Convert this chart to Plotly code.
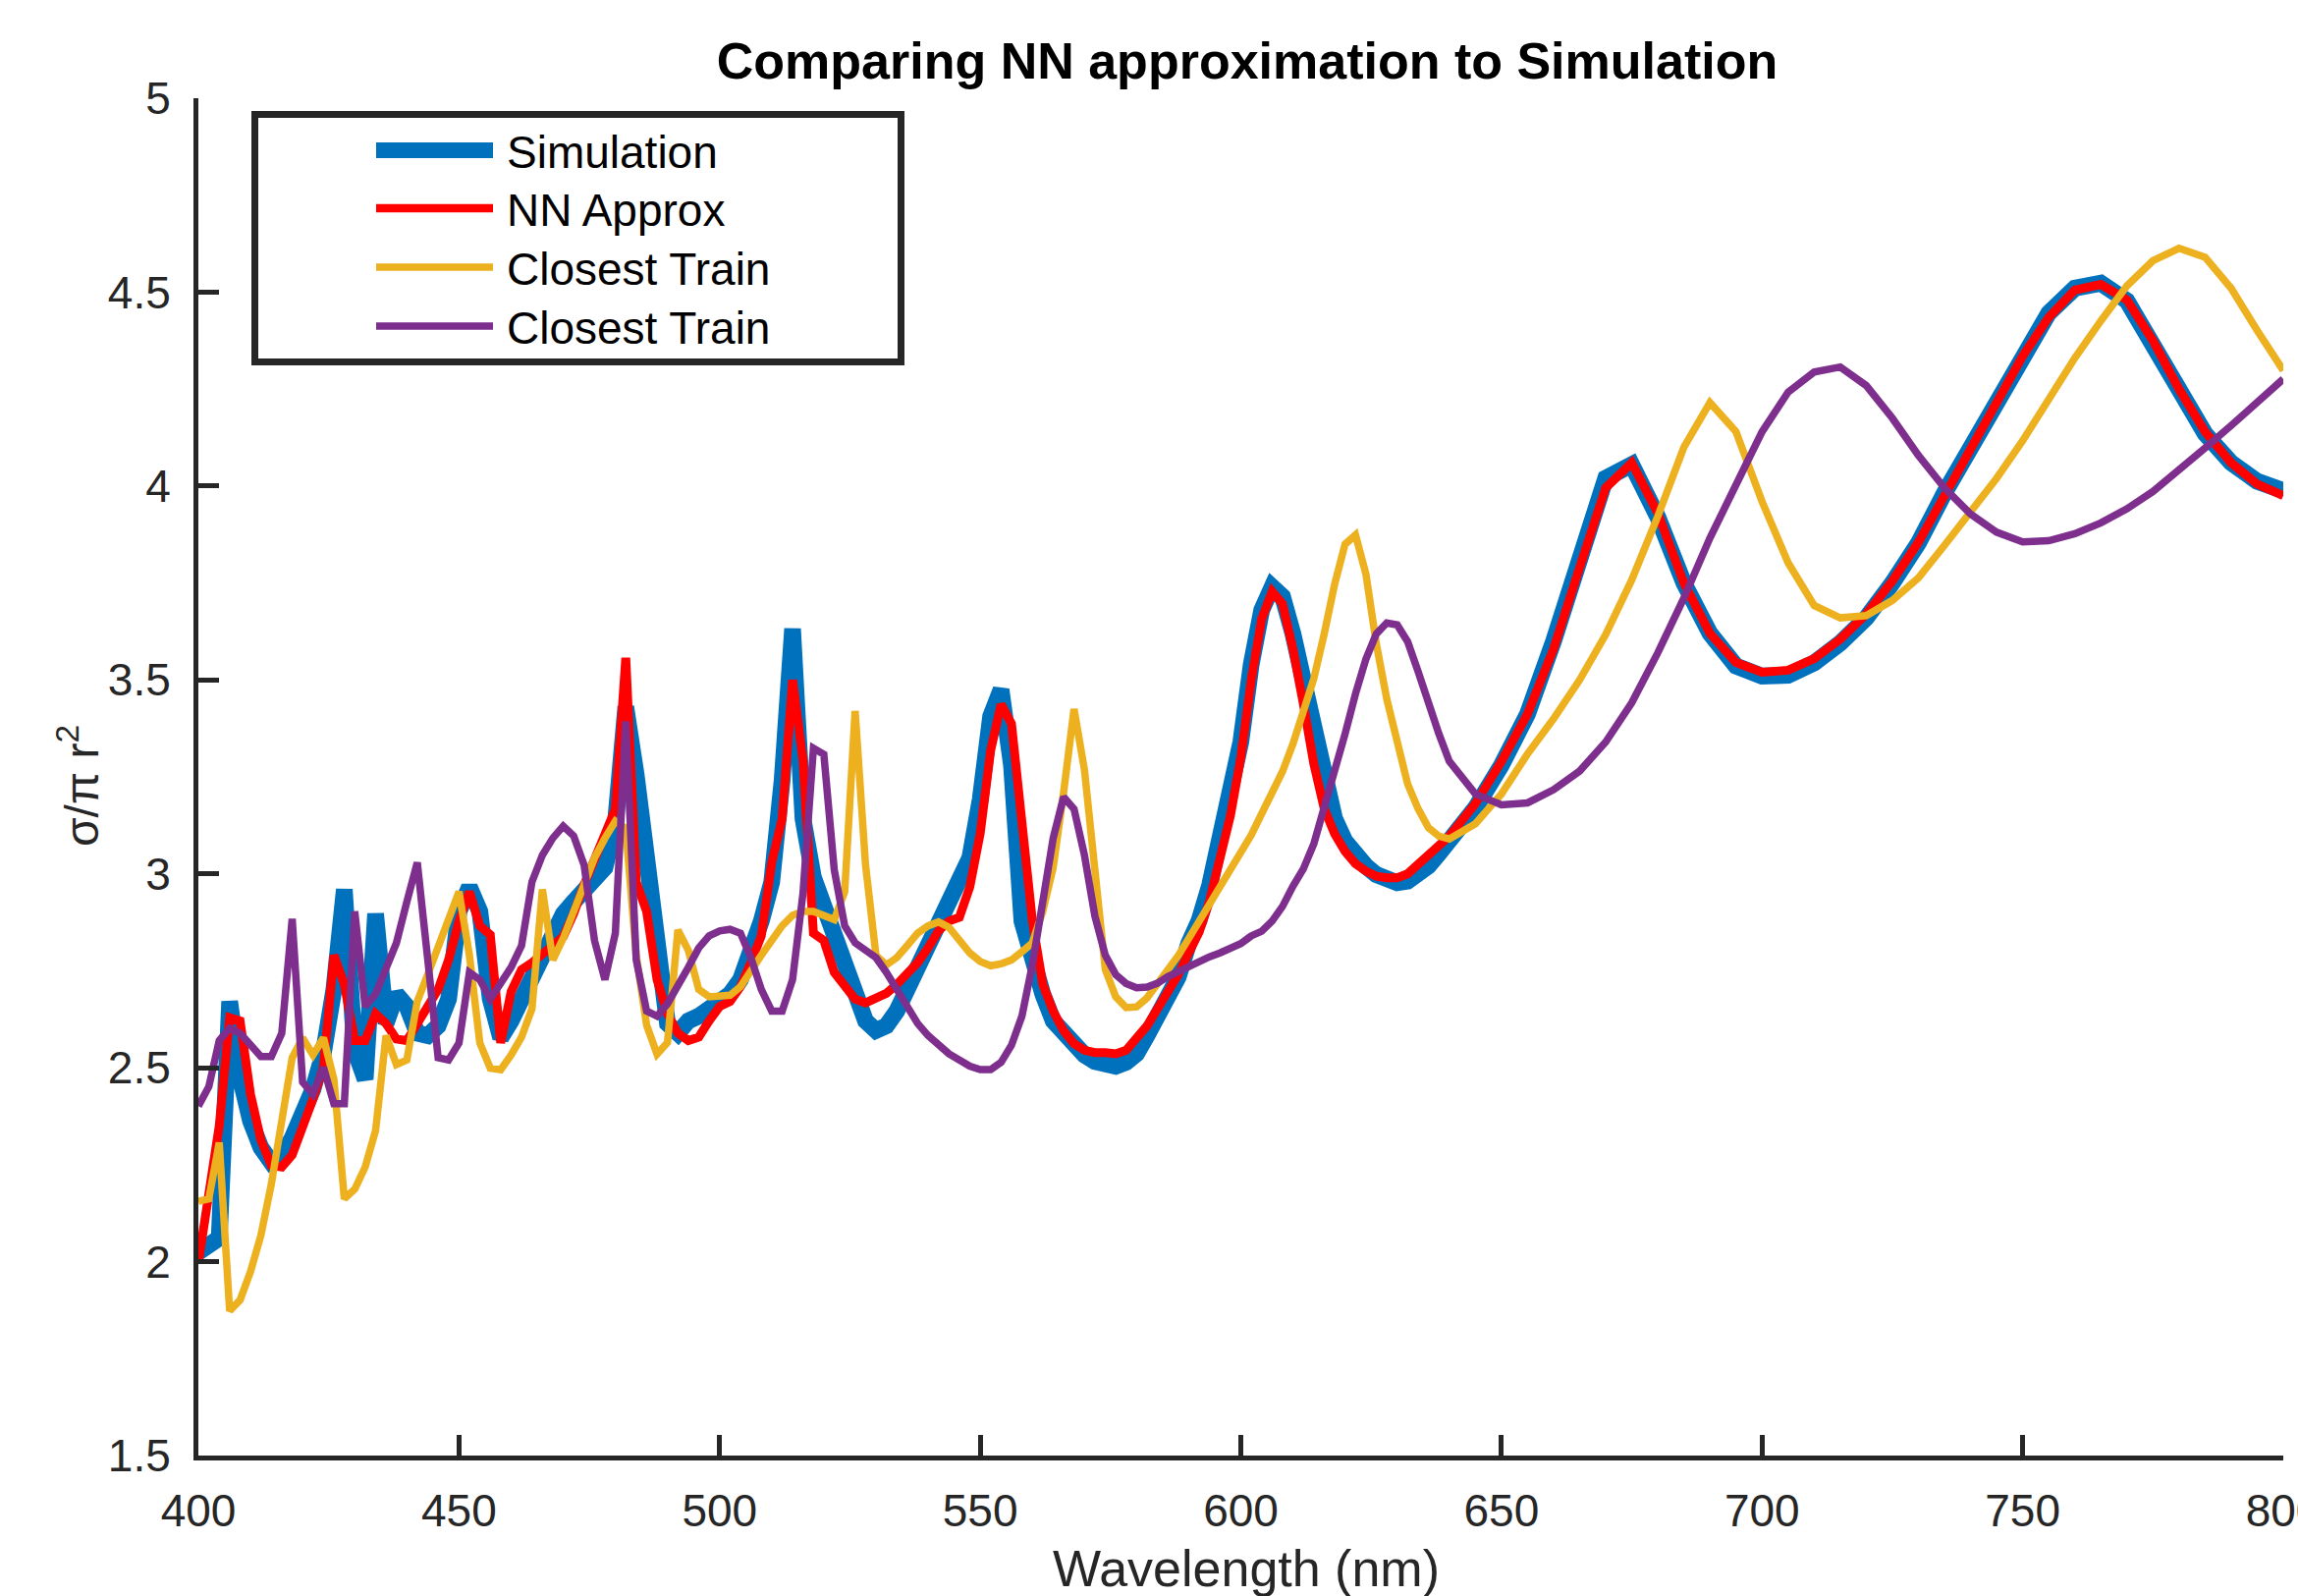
import plotly.graph_objects as go

# ---------------- data ----------------
wavelength = list(range(400, 641, 2)) + list(range(645, 801, 5))

simulation = [
    2.024, 2.043, 2.061, 2.671, 2.476, 2.363, 2.294, 2.256, 2.269, 2.319,
    2.376, 2.445, 2.539, 2.702, 2.960, 2.545, 2.470, 2.897, 2.614, 2.690,
    2.658, 2.589, 2.583, 2.608, 2.677, 2.903, 2.966, 2.903, 2.677, 2.577,
    2.621, 2.677, 2.740, 2.796, 2.853, 2.897, 2.928, 2.954, 2.979, 3.016,
    3.129, 3.431, 3.255, 3.041, 2.878, 2.614, 2.589, 2.621, 2.633, 2.652,
    2.677, 2.690, 2.727, 2.790, 2.878, 2.979, 3.242, 3.632, 3.142, 2.991,
    2.916, 2.853, 2.778, 2.690, 2.621, 2.596, 2.608, 2.646, 2.702, 2.759,
    2.815, 2.872, 2.916, 2.979, 3.041, 3.192, 3.406, 3.475, 3.280, 2.878,
    2.771, 2.690, 2.621, 2.589, 2.558, 2.533, 2.516, 2.505, 2.504, 2.514,
    2.536, 2.583, 2.633, 2.683, 2.734, 2.820, 2.880, 2.970, 3.080, 3.200,
    3.340, 3.540, 3.680, 3.740, 3.715, 3.619, 3.490, 3.361, 3.232, 3.142,
    3.084, 3.045, 3.020, 2.998, 2.985, 2.977, 2.981, 2.998, 3.020, 3.052,
    3.084,
    3.170, 3.280, 3.412, 3.600, 3.810, 4.020, 4.055, 3.920, 3.750, 3.620,
    3.536, 3.510, 3.512, 3.544, 3.595, 3.660, 3.750, 3.853, 3.982, 4.098,
    4.227, 4.349, 4.446, 4.510, 4.523, 4.478, 4.368, 4.240, 4.135, 4.060,
    4.012, 3.988,
]

nn_approx = [
    1.998, 2.175, 2.350, 2.629, 2.621, 2.432, 2.313, 2.248, 2.244, 2.275,
    2.344, 2.420, 2.501, 2.790, 2.715, 2.570, 2.570, 2.639, 2.614, 2.574,
    2.570, 2.614, 2.658, 2.702, 2.778, 2.878, 2.954, 2.866, 2.843, 2.564,
    2.696, 2.753, 2.771, 2.796, 2.815, 2.838, 2.897, 2.972, 3.041, 3.098,
    3.167, 3.557, 2.979, 2.903, 2.727, 2.639, 2.589, 2.570, 2.579, 2.621,
    2.658, 2.671, 2.709, 2.771, 2.840, 3.029, 3.142, 3.500, 3.293, 2.847,
    2.828, 2.746, 2.715, 2.677, 2.667, 2.677, 2.692, 2.715, 2.740, 2.771,
    2.809, 2.853, 2.878, 2.888, 2.966, 3.104, 3.318, 3.437, 3.387, 3.120,
    2.880, 2.715, 2.646, 2.595, 2.562, 2.545, 2.539, 2.539, 2.536, 2.545,
    2.577, 2.608, 2.652, 2.696, 2.740, 2.796, 2.850, 2.930, 3.030, 3.150,
    3.300, 3.500, 3.657, 3.728, 3.696, 3.580, 3.438, 3.284, 3.168, 3.103,
    3.058, 3.026, 3.007, 2.994, 2.990, 2.990, 3.000, 3.023, 3.045, 3.071,
    3.097,
    3.181, 3.290, 3.412, 3.580, 3.790, 3.995, 4.060, 3.930, 3.750, 3.620,
    3.545, 3.520, 3.525, 3.555, 3.605, 3.670, 3.755, 3.855, 3.975, 4.090,
    4.215, 4.335, 4.435, 4.505, 4.520, 4.480, 4.375, 4.250, 4.140, 4.060,
    4.005, 3.975,
]

closest_train_a = [
    2.156, 2.162, 2.307, 1.873, 1.901, 1.974, 2.068, 2.200, 2.363, 2.526,
    2.577, 2.533, 2.577, 2.470, 2.162, 2.187, 2.244, 2.338, 2.583, 2.508,
    2.520, 2.671, 2.740, 2.809, 2.884, 2.954, 2.790, 2.564, 2.499, 2.495,
    2.533, 2.579, 2.652, 2.960, 2.778, 2.834, 2.903, 2.979, 3.041, 3.092,
    3.136, 3.117, 2.790, 2.610, 2.535, 2.565, 2.855, 2.803, 2.702, 2.683,
    2.683, 2.687, 2.709, 2.753, 2.790, 2.828, 2.866, 2.893, 2.903, 2.903,
    2.891, 2.882, 2.954, 3.420, 3.023, 2.790, 2.765, 2.784, 2.815, 2.847,
    2.866, 2.876, 2.862, 2.830, 2.796, 2.774, 2.763, 2.768, 2.778, 2.799,
    2.822, 2.903, 3.016, 3.210, 3.425, 3.268, 3.029, 2.753, 2.683, 2.655,
    2.657, 2.680, 2.716, 2.751, 2.789, 2.833, 2.878, 2.920, 2.961, 3.005,
    3.050, 3.100, 3.155, 3.206, 3.264, 3.335, 3.412, 3.503, 3.619, 3.747,
    3.850, 3.874, 3.773, 3.593, 3.451, 3.335, 3.232, 3.168, 3.119, 3.097,
    3.090,
    3.129, 3.206, 3.309, 3.400, 3.500, 3.617, 3.758, 3.922, 4.100, 4.215,
    4.140, 3.960, 3.802, 3.692, 3.660, 3.666, 3.705, 3.763, 3.847, 3.930,
    4.020, 4.117, 4.227, 4.330, 4.426, 4.516, 4.581, 4.613, 4.590, 4.510,
    4.401, 4.298,
]

closest_train_b = [
    2.401, 2.451, 2.570, 2.602, 2.589, 2.562, 2.529, 2.529, 2.589, 2.884,
    2.463, 2.432, 2.501, 2.407, 2.407, 2.903, 2.658, 2.690, 2.753, 2.822,
    2.928, 3.029, 2.780, 2.526, 2.520, 2.564, 2.746, 2.727, 2.677, 2.715,
    2.759, 2.815, 2.979, 3.048, 3.092, 3.123, 3.098, 3.023, 2.828, 2.727,
    2.847, 3.393, 2.778, 2.646, 2.633, 2.665, 2.709, 2.759, 2.809, 2.840,
    2.853, 2.857, 2.847, 2.784, 2.702, 2.646, 2.646, 2.727, 2.950, 3.324,
    3.308, 3.010, 2.866, 2.822, 2.803, 2.784, 2.746, 2.702, 2.652, 2.614,
    2.583, 2.558, 2.536, 2.520, 2.504, 2.495, 2.495, 2.514, 2.558, 2.633,
    2.765, 2.928, 3.092, 3.198, 3.167, 3.048, 2.891, 2.790, 2.740, 2.717,
    2.706, 2.708, 2.718, 2.735, 2.749, 2.762, 2.775, 2.786, 2.796, 2.808,
    2.820, 2.840, 2.852, 2.878, 2.916, 2.968, 3.013, 3.077, 3.168, 3.258,
    3.361, 3.464, 3.554, 3.619, 3.647, 3.642, 3.599, 3.522, 3.438, 3.361,
    3.290,
    3.206, 3.178, 3.183, 3.217, 3.265, 3.340, 3.441, 3.570, 3.711, 3.866,
    4.008, 4.140, 4.242, 4.294, 4.307, 4.259, 4.175, 4.079, 3.995, 3.928,
    3.881, 3.856, 3.859, 3.877, 3.905, 3.941, 3.986, 4.040, 4.098, 4.156,
    4.214, 4.276,
]

series_names = ["Simulation", "NN Approx", "Closest Train", "Closest Train"]
x_ticks = [400, 450, 500, 550, 600, 650, 700, 750, 800]
y_ticks = [1.5, 2, 2.5, 3, 3.5, 4, 4.5, 5]

# ---------------- styling ----------------
W, H = 2340, 1625
L, R, T, B = 202, 15, 100, 143
PW, PH = W - L - R, H - T - B
AX = "#262626"
FONT = "Liberation Sans, Arial, Helvetica, sans-serif"
colors = ["#0072BD", "#FF0000", "#EDB120", "#7E2F8E"]
widths = [17, 9, 7.5, 7.5]


def px_x(p):
    return (p - L) / PW


def px_y(p):
    return 1 - (p - T) / PH


fig = go.Figure()
for ys, name, c, w in zip([simulation, nn_approx, closest_train_a, closest_train_b],
                          series_names, colors, widths):
    fig.add_trace(go.Scatter(x=wavelength, y=ys, mode="lines", name=name,
                             line=dict(color=c, width=w), showlegend=False))

# legend (drawn to match MATLAB's long sample lines)
shapes = [dict(type="rect", xref="paper", yref="paper",
               x0=px_x(259.5), x1=px_x(917.5), y0=px_y(116.5), y1=px_y(368.5),
               line=dict(color=AX, width=7), fillcolor="white", layer="above")]
annotations = []
row_y = [153, 212, 272, 332]
legend_w = [16, 8.5, 7.5, 7.5]
for name, c, w, ry in zip(series_names, colors, legend_w, row_y):
    shapes.append(dict(type="line", xref="paper", yref="paper",
                       x0=px_x(383), x1=px_x(502), y0=px_y(ry), y1=px_y(ry),
                       line=dict(color=c, width=w), layer="above"))
    annotations.append(dict(xref="paper", yref="paper", x=px_x(514), y=px_y(ry + 2),
                            xanchor="left", yanchor="middle", showarrow=False,
                            text=name, font=dict(family=FONT, size=46, color="black")))

# axis labels
annotations.append(dict(xref="paper", yref="paper", x=px_x(1269), y=px_y(1597),
                        xanchor="center", yanchor="middle", showarrow=False,
                        text="Wavelength (nm)", font=dict(family=FONT, size=52, color=AX)))
annotations.append(dict(xref="paper", yref="paper", x=px_x(80), y=px_y(800),
                        xanchor="center", yanchor="middle", showarrow=False, textangle=-90,
                        text="σ/π r<sup>2</sup>", font=dict(family=FONT, size=48, color=AX)))

fig.update_layout(
    width=W, height=H, autosize=False,
    margin=dict(l=L, r=R, t=T, b=B, pad=0, autoexpand=False),
    paper_bgcolor="white", plot_bgcolor="white",
    font=dict(family=FONT, color=AX),
    title=dict(text="Comparing NN approximation to Simulation",
               font=dict(family=FONT, size=52, color="black", weight="bold"),
               x=px_x(1270), xref="paper", xanchor="center",
               y=1 - 62 / H, yref="container", yanchor="middle"),
    shapes=shapes, annotations=annotations,
    showlegend=False,
)
fig.update_xaxes(range=[400, 800], tickvals=x_ticks, ticks="inside", ticklen=21,
                 tickwidth=4.5, tickcolor=AX, showline=True, linewidth=5, linecolor=AX,
                 showgrid=False, zeroline=False, mirror=False, ticklabeloverflow="allow",
                 automargin=False,
                 tickfont=dict(family=FONT, size=46, color=AX), ticklabelstandoff=12)
fig.update_yaxes(range=[1.5, 5], tickvals=y_ticks, ticks="inside", ticklen=21,
                 tickwidth=4.5, tickcolor=AX, showline=True, linewidth=5, linecolor=AX,
                 showgrid=False, zeroline=False, mirror=False, ticklabeloverflow="allow",
                 automargin=False,
                 tickfont=dict(family=FONT, size=46, color=AX), ticklabelstandoff=14)

fig.write_html("out.html", config={"displayModeBar": False},
               post_script="document.body.style.margin='0';document.body.style.overflow='hidden';")
